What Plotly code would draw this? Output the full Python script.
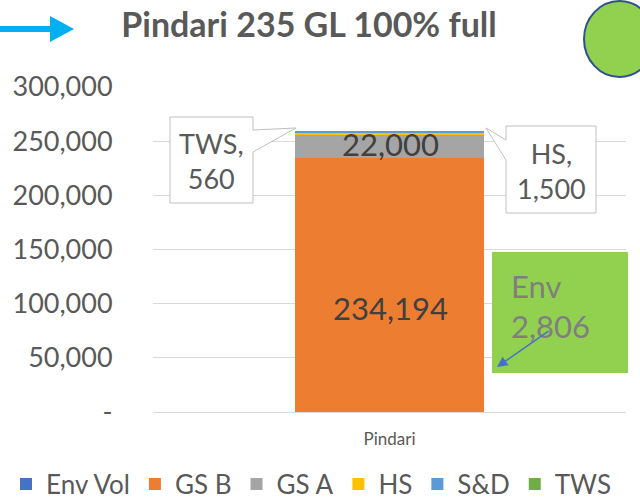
import plotly.graph_objects as go

# ---------------- data ----------------
categories = ["Pindari"]
series_names = ["Env Vol", "GS B", "GS A", "HS", "S&D", "TWS"]
env_vol_label = [2806]      # shown in the call-out box, no visible segment
env_vol = [0]
gs_b = [234194]
gs_a = [22000]
hs = [1500]
s_and_d = [1000]
tws = [560]
y_tick_vals = [0, 50000, 100000, 150000, 200000, 250000, 300000]
y_tick_text = ["-", "50,000", "100,000", "150,000", "200,000", "250,000", "300,000"]
title_text = "Pindari 235 GL 100% full"

colors = ["#4472C4", "#ED7D31", "#A5A5A5", "#FFC000", "#5B9BD5", "#70AD47"]
values = [env_vol, gs_b, gs_a, hs, s_and_d, tws]

W, H = 640, 501
L, R, T, B = 153, 626, 87, 412
PW, PH = R - L, B - T


def px(x, y):
    return (x - L) / PW, (B - y) / PH


def path(points):
    s = ""
    for i, (x, y) in enumerate(points):
        a, b = px(x, y)
        s += ("M" if i == 0 else "L") + f"{a:.5f},{b:.5f} "
    return s + "Z"


FONT = "Lato"
GREY = "#595959"

fig = go.Figure()
for name, vals, col in zip(series_names, values, colors):
    fig.add_trace(go.Bar(x=categories, y=vals, name=name, marker=dict(color=col, line=dict(width=0)),
                         width=0.4, hoverinfo="name+y"))

shapes = []
annotations = []


def label(x, y, text, size, color, xanchor="center", align="center"):
    a, b = px(x, y)
    annotations.append(dict(xref="paper", yref="paper", x=a, y=b, xanchor=xanchor, yanchor="middle",
                            showarrow=False, align=align, text=text,
                            font=dict(family=FONT, size=size, color=color)))


# TWS call-out
shapes.append(dict(type="path", xref="paper", yref="paper", layer="above",
                   path=path([(170, 117), (253, 117), (253, 130), (296, 128), (253, 152), (253, 203), (170, 203)]),
                   fillcolor="white", line=dict(color="#BFBFBF", width=1)))
label(211.5, 161, f"TWS,<br>{tws[0]:,}", 27, GREY)
# HS call-out
shapes.append(dict(type="path", xref="paper", yref="paper", layer="above",
                   path=path([(506, 126), (596, 126), (596, 213), (506, 213), (506, 160), (486, 128), (506, 140)]),
                   fillcolor="white", line=dict(color="#BFBFBF", width=1)))
label(551, 171, f"HS,<br>{hs[0]:,}", 27, GREY)
# Env box
x0, y0 = px(492, 373)
x1, y1 = px(628, 252)
shapes.append(dict(type="rect", xref="paper", yref="paper", layer="above", x0=x0, y0=y0, x1=x1, y1=y1,
                   fillcolor="#92D050", line=dict(width=0)))
label(509, 306, f"Env<br>{env_vol_label[0]:,}", 31, "#7F7F7F", xanchor="left", align="left")
tx, ty = px(497, 367)
annotations.append(dict(xref="paper", yref="paper", x=tx, y=ty, text="", showarrow=True,
                        axref="pixel", ayref="pixel", ax=53, ay=-37,
                        arrowcolor="#4472C4", arrowwidth=1.5, arrowhead=2, arrowsize=1.4))
# data labels
label(390, 308, f"{gs_b[0]:,}", 31, "#404040")
label(390, 144, f"{gs_a[0]:,}", 31, "#404040")

# decorative blue arrow (top left)
shapes.append(dict(type="path", xref="paper", yref="paper", layer="above",
                   path=path([(0, 26), (50, 26), (50, 16), (74, 29), (50, 42), (50, 32), (0, 32)]),
                   fillcolor="#00B0F0", line=dict(width=0)))
# decorative green circle (top right)
x0, y0 = px(584, 77)
x1, y1 = px(655, 1)
shapes.append(dict(type="circle", xref="paper", yref="paper", layer="above", x0=x0, y0=y0, x1=x1, y1=y1,
                   fillcolor="#92D050", line=dict(color="#2F528F", width=2)))

lx, ly = px(6, 484)
fig.update_layout(
    width=W, height=H,
    margin=dict(l=L, r=W - R, t=T, b=H - B, pad=0, autoexpand=False),
    paper_bgcolor="white", plot_bgcolor="white",
    barmode="stack",
    font=dict(family=FONT, color=GREY),
    title=dict(text=f"<b>{title_text}</b>", x=309 / W, xanchor="center", xref="container",
               y=1 - 25 / H, yanchor="middle", yref="container",
               font=dict(family=FONT, size=34, color=GREY)),
    showlegend=True,
    legend=dict(orientation="h", xref="paper", yref="paper", x=lx, y=ly,
                xanchor="left", yanchor="middle",
                font=dict(family=FONT, size=26, color=GREY), traceorder="normal",
                bgcolor="rgba(0,0,0,0)", borderwidth=0),
    xaxis=dict(showgrid=False, showline=True, linecolor="#D9D9D9", linewidth=1,
               ticks="outside", ticklen=12, tickcolor="rgba(0,0,0,0)",
               tickfont=dict(family=FONT, size=17, color=GREY)),
    yaxis=dict(range=[0, 300000], tickvals=y_tick_vals, ticktext=y_tick_text, showgrid=True,
               gridcolor="#D9D9D9", gridwidth=1, zeroline=False, showline=False,
               ticks="outside", ticklen=34, tickcolor="rgba(0,0,0,0)",
               tickfont=dict(family=FONT, size=27, color=GREY)),
    shapes=shapes, annotations=annotations,
)

fig.write_html("out.html", config={"displayModeBar": False},
               post_script="document.body.style.margin='0px';")
